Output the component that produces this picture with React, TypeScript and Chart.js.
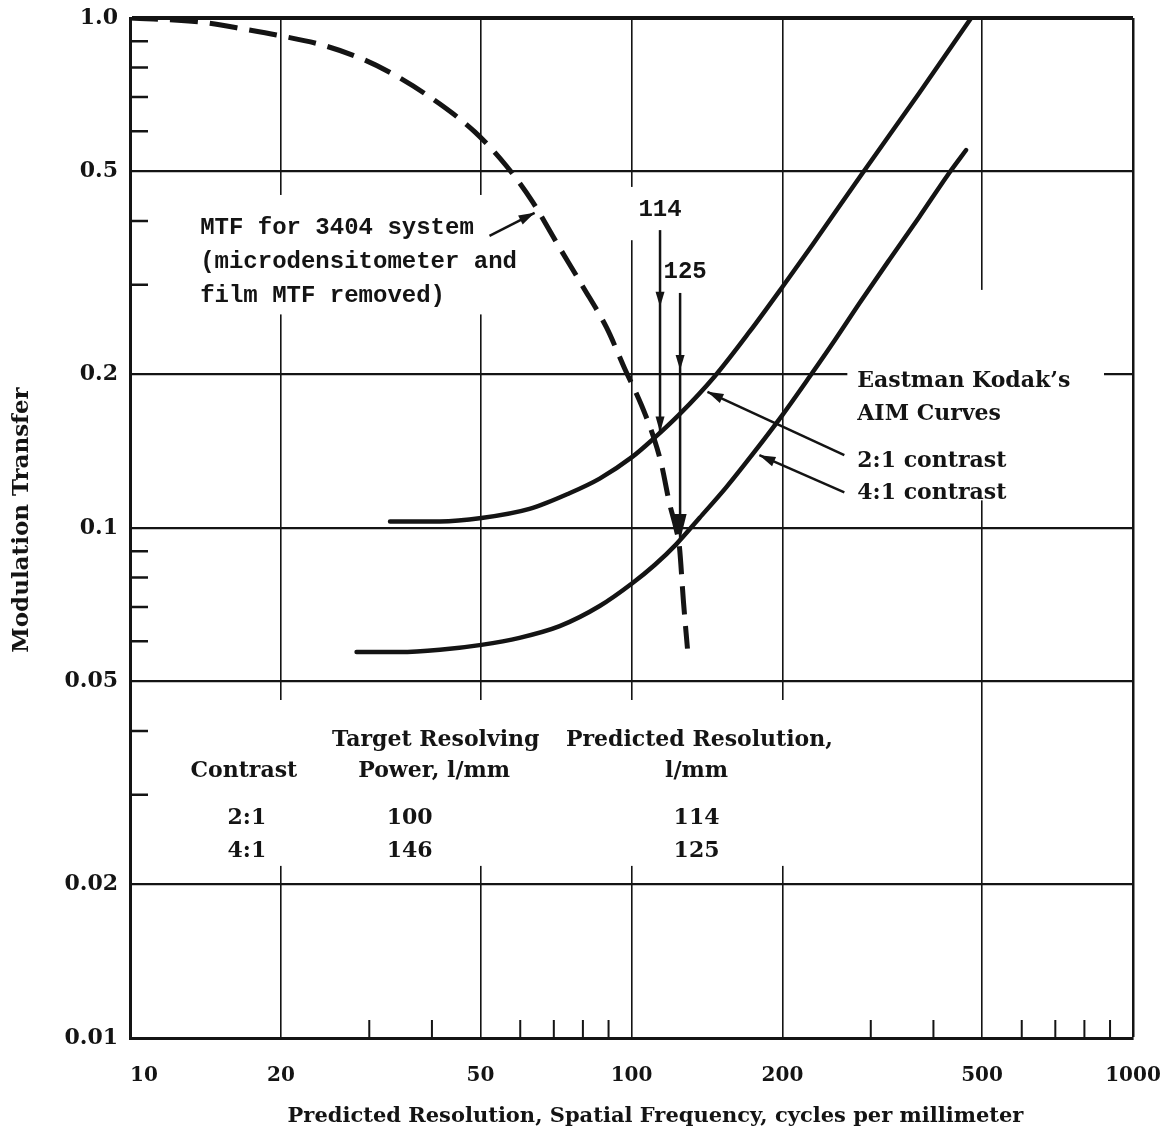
import React, { useEffect, useRef } from 'react';
import { Chart, registerables } from 'chart.js';

Chart.register(...registerables);

// Axis ticks: spatial frequency (cycles/mm) and modulation transfer
const xMajorTicks = [10, 20, 50, 100, 200, 500, 1000];
const xMinorTicks = [30, 40, 60, 70, 80, 90, 300, 400, 600, 700, 800, 900];
const yMajorTicks = [1, 0.5, 0.2, 0.1, 0.05, 0.02, 0.01];
const yMinorTicks = [0.9, 0.8, 0.7, 0.6, 0.4, 0.3, 0.09, 0.08, 0.07, 0.06, 0.04, 0.03];
const xTickLabels = ['10', '20', '50', '100', '200', '500', '1000'];
const yTickLabels = ['1.0', '0.5', '0.2', '0.1', '0.05', '0.02', '0.01'];

// MTF for the 3404 system (microdensitometer and film MTF removed)
const mtfFreq = [10, 13.8, 17.3, 19.6, 24.2, 29.4, 34.5, 41.5, 48.7, 56.1, 63.5, 71.2, 79.9, 89.2, 96.8, 104.7, 111.1, 114.8, 119.0, 122.9, 124.6, 126.9, 129.3];
const mtfValue = [1.0, 0.982, 0.947, 0.926, 0.885, 0.827, 0.763, 0.678, 0.598, 0.515, 0.436, 0.36, 0.298, 0.247, 0.206, 0.174, 0.149, 0.133, 0.112, 0.099, 0.092, 0.072, 0.058];

// Eastman Kodak AIM curve, 2:1 contrast
const aim2Freq = [33.0, 41.5, 50.2, 62.6, 75.2, 86.4, 100.5, 110.1, 124.6, 146.3, 171.8, 199.9, 229.4, 287.1, 374.8, 475.6];
const aim2Value = [0.103, 0.103, 0.1046, 0.109, 0.117, 0.125, 0.138, 0.149, 0.167, 0.198, 0.2423, 0.2969, 0.3589, 0.4924, 0.7126, 1.0];

// Eastman Kodak AIM curve, 4:1 contrast
const aim4Freq = [28.3, 34.5, 41.5, 50.2, 59.8, 71.9, 86.4, 100.5, 111.2, 122.9, 136.6, 154.6, 175.8, 199.9, 226.3, 253.7, 285.9, 326.5, 374.8, 430, 464.8];
const aim4Value = [0.0571, 0.0571, 0.0577, 0.059, 0.0609, 0.0642, 0.0703, 0.078, 0.0846, 0.093, 0.1046, 0.1203, 0.141, 0.1665, 0.1977, 0.2326, 0.2774, 0.3354, 0.4073, 0.4967, 0.551];

// Resolution table
const contrastLabels = ['2:1', '4:1'];
const targetPower = [100, 146];
const predictedResolution = [114, 125];

const INK = '#141414';
const SERIF = '"DejaVu Serif", serif';
const MONO = '"Liberation Mono", monospace';

// log-log interpolation along a curve
function curveAt(freq: number[], val: number[], f: number): number {
  for (let i = 0; i < freq.length - 1; i++) {
    if (f >= freq[i] && f <= freq[i + 1]) {
      const t = (Math.log(f) - Math.log(freq[i])) / (Math.log(freq[i + 1]) - Math.log(freq[i]));
      return Math.exp(Math.log(val[i]) + t * (Math.log(val[i + 1]) - Math.log(val[i])));
    }
  }
  return val[val.length - 1];
}

// White areas (data coordinates) where the grid is interrupted around the lettering
const gridBreaks: [number, number, number, number][] = [
  [13.17, 0.4498, 55.8, 0.2623],
  [96.8, 0.4664, 130.2, 0.3667],
  [269.4, 0.293, 875.4, 0.1133],
  [12.58, 0.046, 259.7, 0.02175],
];

function arrowHead(ctx: CanvasRenderingContext2D, tx: number, ty: number, fx: number, fy: number, len: number, half: number) {
  const a = Math.atan2(ty - fy, tx - fx);
  const bx = tx - len * Math.cos(a);
  const by = ty - len * Math.sin(a);
  ctx.beginPath();
  ctx.moveTo(tx, ty);
  ctx.lineTo(bx + half * Math.sin(a), by - half * Math.cos(a));
  ctx.lineTo(bx - half * Math.sin(a), by + half * Math.cos(a));
  ctx.closePath();
  ctx.fill();
}

const overlayPlugin = {
  id: 'overlay',
  beforeDatasetsDraw(chart: any) {
    const { ctx } = chart;
    const xs = chart.scales.x;
    const ys = chart.scales.y;
    ctx.save();
    ctx.fillStyle = '#ffffff';
    for (const [x0, y0, x1, y1] of gridBreaks) {
      const a = xs.getPixelForValue(x0);
      const b = xs.getPixelForValue(x1);
      const c = ys.getPixelForValue(y0);
      const d = ys.getPixelForValue(y1);
      ctx.fillRect(Math.min(a, b), Math.min(c, d), Math.abs(b - a), Math.abs(d - c));
    }
    ctx.restore();
  },
  afterDatasetsDraw(chart: any) {
    const { ctx, chartArea: area } = chart;
    const xs = chart.scales.x;
    const ys = chart.scales.y;
    const X = (v: number) => xs.getPixelForValue(v);
    const Y = (v: number) => ys.getPixelForValue(v);

    ctx.save();
    ctx.strokeStyle = INK;
    ctx.fillStyle = INK;
    ctx.lineCap = 'butt';

    // minor tick marks, drawn inward
    ctx.lineWidth = 2.5;
    ctx.beginPath();
    yMinorTicks.forEach((v) => {
      const p = Y(v);
      ctx.moveTo(area.left, p);
      ctx.lineTo(area.left + 18, p);
    });
    ctx.stroke();
    ctx.lineWidth = 2;
    ctx.beginPath();
    xMinorTicks.forEach((v) => {
      const p = X(v);
      ctx.moveTo(p, area.bottom);
      ctx.lineTo(p, area.bottom - 18);
    });
    ctx.stroke();

    // tick labels
    ctx.font = `bold 22px ${SERIF}`;
    ctx.textAlign = 'right';
    ctx.textBaseline = 'middle';
    yMajorTicks.forEach((v, i) => ctx.fillText(yTickLabels[i], area.left - 12, Y(v)));
    ctx.font = `bold 20px ${SERIF}`;
    ctx.textAlign = 'center';
    xMajorTicks.forEach((v, i) => ctx.fillText(xTickLabels[i], X(v) + (i === 0 ? 14 : 0), area.bottom + 38));

    // axis titles
    ctx.font = `bold 21px ${SERIF}`;
    ctx.fillText('Predicted Resolution, Spatial Frequency, cycles per millimeter', (area.left + area.right) / 2 + 24, area.bottom + 79);
    ctx.save();
    ctx.font = `bold 23px ${SERIF}`;
    ctx.translate(area.left - 108, (area.top + area.bottom) / 2 - 8);
    ctx.rotate(-Math.PI / 2);
    ctx.fillText('Modulation Transfer', 0, 0);
    ctx.restore();

    // MTF note with its leader
    ctx.font = `bold 24px ${MONO}`;
    ctx.textAlign = 'left';
    const mtfLines = ['MTF for 3404 system', '(microdensitometer and', 'film MTF removed)'];
    const mx = X(13.8);
    const my = Y(0.3871);
    mtfLines.forEach((t, i) => ctx.fillText(t, mx, my + i * 34));
    ctx.lineWidth = 2.5;
    const l0x = X(52.1), l0y = Y(0.374), l1x = X(64.1), l1y = Y(0.415);
    ctx.beginPath();
    ctx.moveTo(l0x, l0y);
    ctx.lineTo(l1x, l1y);
    ctx.stroke();
    arrowHead(ctx, l1x, l1y, l0x, l0y, 16, 5);

    // predicted-resolution arrows
    const aimCurves = [
      { f: aim2Freq, v: aim2Value, top: 0.3838, mid: 0.2714, labelY: 0.4203, dx: 0, big: false },
      { f: aim4Freq, v: aim4Value, top: 0.289, mid: 0.204, labelY: 0.3174, dx: 5, big: true },
    ];
    predictedResolution.forEach((res, i) => {
      const c = aimCurves[i];
      const px = X(res);
      const yTop = Y(c.top);
      const yEnd = Y(curveAt(c.f, c.v, res));
      ctx.lineWidth = 2.5;
      ctx.beginPath();
      ctx.moveTo(px, yTop);
      ctx.lineTo(px, yEnd);
      ctx.stroke();
      arrowHead(ctx, px, Y(c.mid), px, yTop, 15, 4.5);
      arrowHead(ctx, px, yEnd, px, yTop, c.big ? 26 : 16, c.big ? 6.5 : 4.5);
      ctx.font = `bold 24px ${MONO}`;
      ctx.textAlign = 'center';
      ctx.fillText(String(res), px + c.dx, Y(c.labelY));
    });

    // AIM curve key
    ctx.font = `bold 22px ${SERIF}`;
    ctx.textAlign = 'left';
    const kx = X(282);
    ctx.fillText("Eastman Kodak\u2019s", kx, Y(0.1943));
    ctx.fillText('AIM Curves', kx, Y(0.1671));
    ctx.fillText(`${contrastLabels[0]} contrast`, kx, Y(0.1353));
    ctx.fillText(`${contrastLabels[1]} contrast`, kx, Y(0.1171));
    ctx.lineWidth = 2.5;
    const leaders = [
      [265.7, 0.1389, 141.7, 0.1849],
      [265.7, 0.1175, 179.9, 0.1389],
    ];
    leaders.forEach(([fx, fy, tx, ty]) => {
      const ax = X(fx), ay = Y(fy), bx = X(tx), by = Y(ty);
      ctx.beginPath();
      ctx.moveTo(ax, ay);
      ctx.lineTo(bx, by);
      ctx.stroke();
      arrowHead(ctx, bx, by, ax, ay, 16, 5);
    });

    // resolution table
    ctx.font = `bold 22px ${SERIF}`;
    ctx.textAlign = 'center';
    ctx.fillText('Target Resolving', X(40.7), Y(0.0384));
    ctx.fillText('Predicted Resolution,', X(136.6), Y(0.0384));
    ctx.fillText('Contrast', X(16.87), Y(0.0334));
    ctx.fillText('Power, l/mm', X(40.4), Y(0.0334));
    ctx.fillText('l/mm', X(134.8), Y(0.0334));
    const rowY = [0.027, 0.02327];
    contrastLabels.forEach((lab, i) => {
      ctx.fillText(lab, X(17.1), Y(rowY[i]));
      ctx.fillText(String(targetPower[i]), X(36.1), Y(rowY[i]));
      ctx.fillText(String(predictedResolution[i]), X(134.8), Y(rowY[i]));
    });

    ctx.restore();
  },
};

export default function App() {
  const canvasRef = useRef<HTMLCanvasElement | null>(null);

  useEffect(() => {
    const canvas = canvasRef.current;
    if (!canvas) return;
    const toPoints = (f: number[], v: number[]) => f.map((x, i) => ({ x, y: v[i] }));

    const chart = new Chart(canvas, {
      type: 'line',
      data: {
        datasets: [
          {
            label: 'MTF for 3404 system',
            data: toPoints(mtfFreq, mtfValue),
            borderColor: INK,
            borderWidth: 5,
            borderDash: [28, 12],
            pointRadius: 0,
            cubicInterpolationMode: 'monotone',
            fill: false,
          },
          {
            label: 'AIM 2:1 contrast',
            data: toPoints(aim2Freq, aim2Value),
            borderColor: INK,
            borderWidth: 4.5,
            borderCapStyle: 'round',
            pointRadius: 0,
            cubicInterpolationMode: 'monotone',
            fill: false,
          },
          {
            label: 'AIM 4:1 contrast',
            data: toPoints(aim4Freq, aim4Value),
            borderColor: INK,
            borderWidth: 4.5,
            borderCapStyle: 'round',
            pointRadius: 0,
            cubicInterpolationMode: 'monotone',
            fill: false,
          },
        ],
      },
      options: {
        responsive: false,
        animation: false,
        events: [],
        layout: { padding: { left: 130, top: 18, right: 38, bottom: 103 } },
        plugins: { legend: { display: false }, tooltip: { enabled: false } },
        scales: {
          x: {
            type: 'logarithmic',
            min: 10,
            max: 1000,
            afterBuildTicks: (scale: any) => {
              scale.ticks = xMajorTicks.map((value) => ({ value }));
            },
            ticks: { display: false },
            title: { display: false },
            border: { display: true, color: INK, width: 3 },
            grid: {
              drawTicks: false,
              color: INK,
              lineWidth: (c: any) => (c.tick && c.tick.value === 1000 ? 2.5 : 1.6),
            },
          },
          y: {
            type: 'logarithmic',
            min: 0.01,
            max: 1,
            afterBuildTicks: (scale: any) => {
              scale.ticks = yMajorTicks.map((value) => ({ value }));
            },
            ticks: { display: false },
            title: { display: false },
            border: { display: true, color: INK, width: 3 },
            grid: {
              drawTicks: false,
              color: INK,
              lineWidth: (c: any) => (c.tick && c.tick.value === 1 ? 4 : 2.2),
            },
          },
        },
      },
      plugins: [overlayPlugin],
    } as any);

    return () => chart.destroy();
  }, []);

  return (
    <div style={{ position: 'absolute', left: 0, top: 0, width: 1171, height: 1141, background: '#fff' }}>
      <canvas ref={canvasRef} width={1171} height={1141} style={{ display: 'block' }} />
    </div>
  );
}
